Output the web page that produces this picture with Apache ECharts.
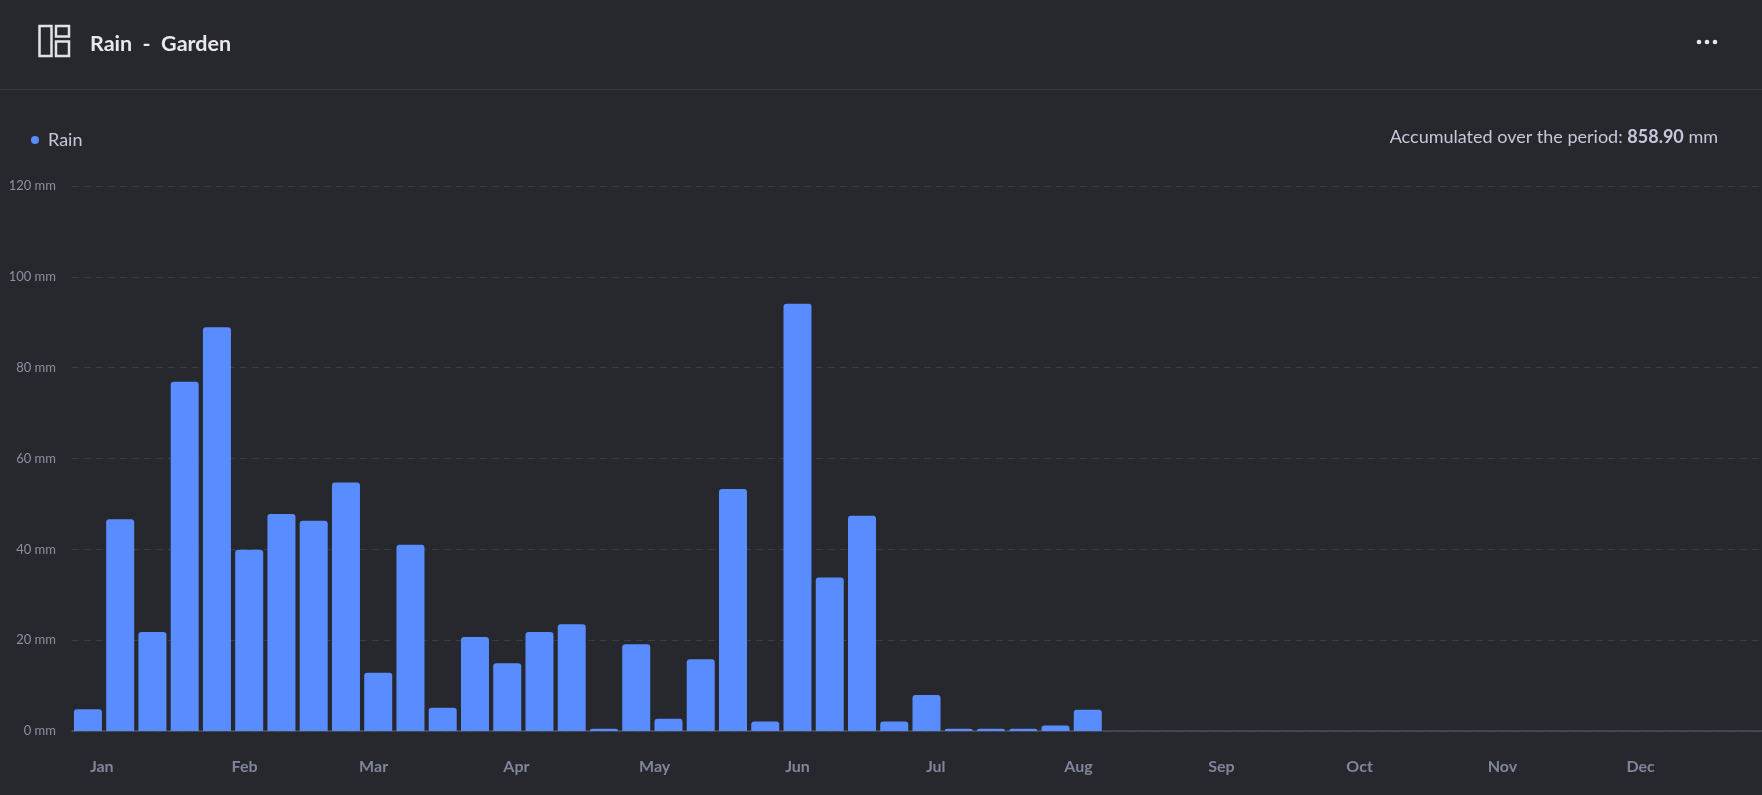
<!DOCTYPE html>
<html>
<head>
    <meta charset="utf-8">
    <title>Rain - Garden</title>
    <script src="https://cdn.jsdelivr.net/npm/echarts@6/dist/echarts.min.js"></script>
    <style>
        html, body { margin: 0; padding: 0; background-color: #27282d; }
        #main { width: 1762px; height: 795px; }
    </style>
</head>
<body>
    <div id="main"></div>
    <script type="text/javascript">
        // weekly rain, one bar per week (week start date)
        var weekStarts = [
            '2024-12-29', '2025-01-05', '2025-01-12', '2025-01-19', '2025-01-26',
            '2025-02-02', '2025-02-09', '2025-02-16', '2025-02-23',
            '2025-03-02', '2025-03-09', '2025-03-16', '2025-03-23', '2025-03-30',
            '2025-04-06', '2025-04-13', '2025-04-20', '2025-04-27',
            '2025-05-04', '2025-05-11', '2025-05-18', '2025-05-25',
            '2025-06-01', '2025-06-08', '2025-06-15', '2025-06-22', '2025-06-29',
            '2025-07-06', '2025-07-13', '2025-07-20', '2025-07-27',
            '2025-08-03'
        ];
        var rainMm = [
            4.8, 46.6, 21.8, 76.9, 88.9,
            39.9, 47.8, 46.3, 54.7,
            12.8, 41.0, 5.1, 20.7, 14.9,
            21.8, 23.5, 0.5, 19.1,
            2.7, 15.8, 53.3, 2.1,
            94.1, 33.8, 47.4, 2.1, 7.9,
            0.5, 0.5, 0.5, 1.2,
            4.7
        ];
        var monthNames = ['Jan', 'Feb', 'Mar', 'Apr', 'May', 'Jun', 'Jul', 'Aug', 'Sep', 'Oct', 'Nov', 'Dec'];
        var yTicks = [0, 20, 40, 60, 80, 100, 120];
        var totalText = '858.90';
        var xStart = Date.UTC(2024, 11, 25, 13);
        var xEnd = Date.UTC(2025, 11, 27, 8);

        function toTime(s) {
            var p = s.split('-');
            return Date.UTC(+p[0], +p[1] - 1, +p[2]);
        }

        var monthStarts = [];
        for (var m = 0; m < 12; m++) {
            monthStarts.push(Date.UTC(2025, m, 1));
        }

        var seriesData = [];
        for (var i = 0; i < weekStarts.length; i++) {
            seriesData.push([toTime(weekStarts[i]), rainMm[i]]);
        }

        var fontName = 'Lato, "Noto Sans", sans-serif';
        var myChart = echarts.init(document.getElementById('main'), null, { renderer: 'canvas' });

        var option = {
            backgroundColor: '#27282d',
            animation: false,
            textStyle: { fontFamily: fontName },
            legend: {
                left: 26,
                top: 126,
                icon: 'circle',
                itemWidth: 8,
                itemHeight: 8,
                itemGap: 10,
                textStyle: { color: '#c4c8da', fontSize: 18, fontFamily: fontName, padding: [0, 0, 0, 4] },
                data: ['Rain']
            },
            grid: {
                left: 72,
                right: 0,
                top: 186,
                bottom: 64,
                containLabel: false
            },
            xAxis: {
                type: 'value',
                min: xStart,
                max: xEnd,
                axisLine: { show: true, onZero: false, lineStyle: { color: '#4b4f5e', width: 1.5 } },
                axisTick: { show: false },
                splitLine: { show: false },
                axisLabel: {
                    customValues: monthStarts,
                    margin: 28,
                    color: '#7f869b',
                    fontSize: 16,
                    fontWeight: 'bold',
                    fontFamily: fontName,
                    formatter: function (v) {
                        return monthNames[new Date(v).getUTCMonth()];
                    }
                }
            },
            yAxis: {
                type: 'value',
                min: yTicks[0],
                max: yTicks[yTicks.length - 1],
                interval: 20,
                axisLine: { show: false },
                axisTick: { show: false },
                axisLabel: {
                    margin: 16,
                    color: '#8b90a2',
                    fontSize: 13,
                    fontFamily: fontName,
                    formatter: '{value} mm'
                },
                splitLine: {
                    show: true,
                    lineStyle: { color: '#3a3d46', type: [7, 5], width: 1 }
                }
            },
            series: [{
                name: 'Rain',
                type: 'bar',
                barWidth: 28,
                data: seriesData,
                itemStyle: { color: '#598dff', borderRadius: [3, 3, 0, 0] }
            }],
            graphic: [
                // layout icon
                { type: 'rect', shape: { x: 39.5, y: 26, width: 12, height: 30 }, style: { fill: 'none', stroke: '#e2e2e6', lineWidth: 2.5 } },
                { type: 'rect', shape: { x: 56, y: 26, width: 13, height: 10.5 }, style: { fill: 'none', stroke: '#e2e2e6', lineWidth: 2.5 } },
                { type: 'rect', shape: { x: 56, y: 41.5, width: 13, height: 14.5 }, style: { fill: 'none', stroke: '#e2e2e6', lineWidth: 2.5 } },
                {
                    type: 'text', left: 90, top: 33,
                    style: { text: 'Rain  -  Garden', fill: '#e8e8ec', font: 'bold 21.5px ' + fontName }
                },
                // menu dots
                { type: 'circle', shape: { cx: 1699, cy: 42, r: 2.3 }, style: { fill: '#e8e8ec' } },
                { type: 'circle', shape: { cx: 1707, cy: 42, r: 2.3 }, style: { fill: '#e8e8ec' } },
                { type: 'circle', shape: { cx: 1715, cy: 42, r: 2.3 }, style: { fill: '#e8e8ec' } },
                // header divider
                { type: 'rect', shape: { x: 0, y: 89, width: 1762, height: 1 }, style: { fill: '#393b43' } },
                {
                    type: 'text', right: 44, top: 128,
                    style: {
                        text: '{n|Accumulated over the period: }{b|' + totalText + '}{n| mm}',
                        rich: {
                            n: { fill: '#c4c8da', fontSize: 18, fontFamily: fontName },
                            b: { fill: '#c4c8da', fontSize: 18, fontWeight: 'bold', fontFamily: fontName }
                        }
                    }
                }
            ]
        };

        myChart.setOption(option);
    </script>
</body>
</html>
